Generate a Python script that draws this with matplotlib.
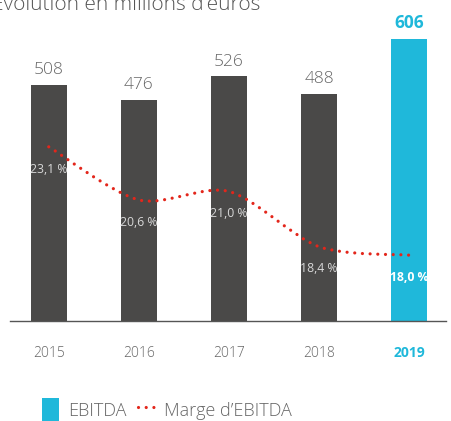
import numpy as np
import matplotlib
matplotlib.use('Agg')
import matplotlib.pyplot as plt
from matplotlib.path import Path
import matplotlib.patches as mpatches
from matplotlib.lines import Line2D

matplotlib.rcParams['font.family'] = ['Open Sans', 'DejaVu Sans']

years = ['2015', '2016', '2017', '2018', '2019']
ebitda = [508, 476, 526, 488, 606]
marge = [23.1, 20.6, 21.0, 18.4, 18.0]
marge_labels = ['23,1 %', '20,6 %', '21,0 %', '18,4 %', '18,0 %']

DARK = '#4a4948'
CYAN = '#1fb8da'
RED = '#e3261b'
GREY = '#666666'

W, H = 451, 421
fig = plt.figure(figsize=(W / 100, H / 100), dpi=100)
# axes from x=10..446 px, y=30..321 px (top-down)
ax = fig.add_axes([10 / W, 1 - 321 / H, 436 / W, 291 / H])
ax2 = ax.twinx()

x = np.arange(len(years))
colors = [DARK] * 4 + [CYAN]
ax.bar(x, ebitda, width=0.4, color=colors, zorder=1)
ax.set_xlim(-0.43, 4.41)
ax.set_ylim(0, 626)

for i, v in enumerate(ebitda):
    last = i == len(ebitda) - 1
    ax.annotate(str(v), (x[i], v), xytext=(0, 5), textcoords='offset points',
                ha='center', va='bottom', fontsize=12.5,
                color=CYAN if last else GREY,
                fontweight='bold' if last else 'light')

# smooth margin curve (Catmull-Rom as cubic bezier)
pts = np.column_stack([x, marge]).astype(float)
verts = [tuple(pts[0])]
codes = [Path.MOVETO]
for i in range(len(pts) - 1):
    p0 = pts[i - 1] if i > 0 else pts[i]
    p1, p2 = pts[i], pts[i + 1]
    p3 = pts[i + 2] if i + 2 < len(pts) else pts[i + 1]
    c1 = p1 + (p2 - p0) / 7
    c2 = p2 - (p3 - p1) / 7
    verts += [tuple(c1), tuple(c2), tuple(p2)]
    codes += [Path.CURVE4] * 3
curve = mpatches.PathPatch(Path(verts, codes), fill=False, edgecolor=RED,
                           linewidth=2.3, linestyle=(0, (0.01, 2.4)),
                           capstyle='round', zorder=3)
ax2.add_patch(curve)
ax2.set_ylim(14.9, 28.6)

for i, (v, lab) in enumerate(zip(marge, marge_labels)):
    last = i == len(marge) - 1
    ax2.annotate(lab, (x[i], v), xytext=(0, -16), textcoords='offset points',
                 ha='center', va='center', fontsize=8.8,
                 color='white' if last else '#d8d8d8',
                 fontweight='bold' if last else 'normal', zorder=4)

for a in (ax, ax2):
    for s in a.spines.values():
        s.set_visible(False)
    a.set_yticks([])
ax.spines['bottom'].set_visible(True)
ax.spines['bottom'].set_color('#555555')
ax.spines['bottom'].set_linewidth(1)
ax.set_xticks(x)
ax.set_xticklabels(years, fontsize=10, color=GREY, fontweight='light')
ax.tick_params(axis='x', length=0, pad=18)
lbl = ax.get_xticklabels()[-1]
lbl.set_color(CYAN)
lbl.set_fontweight('bold')

fig.text(-0.018, 1 - 10 / H, 'Évolution en millions d’euros', fontsize=15,
         color='#555555', va='baseline', ha='left', fontweight='light')

handles = [mpatches.Patch(facecolor=CYAN, edgecolor='none', label='EBITDA'),
           Line2D([], [], color=RED, linewidth=2.3, linestyle=(0, (0.01, 2.4)),
                  dash_capstyle='round', label='Marge d’EBITDA')]
fig.legend(handles=handles, loc='center left', bbox_to_anchor=(26 / W, 1 - 410 / H),
           ncol=2, frameon=False, labelcolor=GREY,
           prop={'size': 13, 'weight': 'light'},
           handlelength=0.95, handleheight=1.6, handletextpad=0.5, columnspacing=0.6)

fig.savefig('out.png', dpi=100)
